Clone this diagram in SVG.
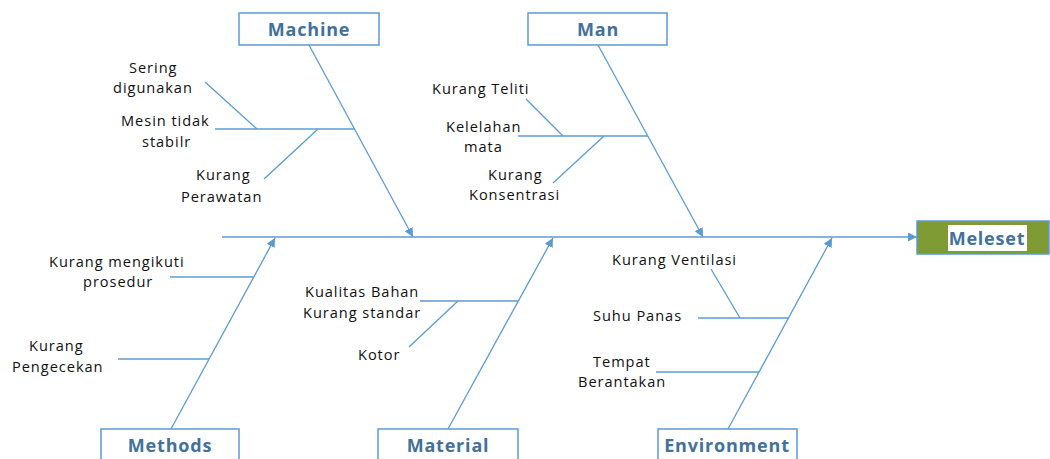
<svg xmlns="http://www.w3.org/2000/svg" width="1050" height="459" viewBox="0 0 1050 459">
<style>
.box{fill:#fff;stroke:#5B9BD5;stroke-width:1.5}
.title{font-family:"Open Sans","Liberation Sans",sans-serif;font-weight:bold;font-size:18px;fill:#41719C;text-anchor:middle;letter-spacing:0.8px}
.lbl{font-family:"Open Sans","Liberation Sans",sans-serif;font-size:14.6px;fill:#111;letter-spacing:0.95px}
.ln{stroke:#5B9BD5;stroke-width:1.3;fill:none}
.arr{stroke:#5B9BD5;stroke-width:1.3;fill:none;marker-end:url(#ah)}
</style>
<defs>
<marker id="ah" viewBox="0 0 10 10" refX="10" refY="5" markerWidth="9" markerHeight="9" markerUnits="userSpaceOnUse" orient="auto">
<path d="M0,0 L10,5 L0,10 z" fill="#5B9BD5"/>
</marker>
</defs>
<rect width="1050" height="459" fill="#fff"/>
<g id="connectors">
<line class="arr" x1="222" y1="237" x2="917" y2="237"/>
<line class="arr" x1="309" y1="45" x2="413" y2="237"/>
<line class="arr" x1="598" y1="45" x2="703" y2="237"/>
<line class="arr" x1="171" y1="429" x2="275" y2="238"/>
<line class="arr" x1="448" y1="429" x2="553" y2="238"/>
<line class="arr" x1="728" y1="429" x2="832" y2="238"/>
<line class="ln" x1="215" y1="129" x2="355" y2="129"/>
<line class="ln" x1="205" y1="82" x2="257" y2="129"/>
<line class="ln" x1="264" y1="179" x2="318" y2="129"/>
<line class="ln" x1="518" y1="136" x2="648" y2="136"/>
<line class="ln" x1="526" y1="99" x2="563" y2="136"/>
<line class="ln" x1="553" y1="183" x2="604" y2="136"/>
<line class="ln" x1="170" y1="277" x2="254" y2="277"/>
<line class="ln" x1="118" y1="359" x2="209" y2="359"/>
<line class="ln" x1="420" y1="301" x2="518" y2="301"/>
<line class="ln" x1="409" y1="347" x2="458" y2="301"/>
<line class="ln" x1="698" y1="318" x2="788" y2="318"/>
<line class="ln" x1="711" y1="269" x2="740" y2="318"/>
<line class="ln" x1="656" y1="372" x2="759" y2="372"/>
</g>
<g id="machine">
<rect class="box" x="239" y="13" width="140" height="32"/>
<text class="title" x="309" y="36">Machine</text>
<text class="lbl" x="129" y="73">Sering</text>
<text class="lbl" x="113" y="93">digunakan</text>
<text class="lbl" x="121" y="126">Mesin tidak</text>
<text class="lbl" x="142" y="147">stabilr</text>
<text class="lbl" x="196" y="180">Kurang</text>
<text class="lbl" x="181" y="202">Perawatan</text>
</g>
<g id="man">
<rect class="box" x="528" y="13" width="139" height="32"/>
<text class="title" x="598" y="36">Man</text>
<text class="lbl" x="432" y="94">Kurang Teliti</text>
<text class="lbl" x="446" y="132">Kelelahan</text>
<text class="lbl" x="464" y="152">mata</text>
<text class="lbl" x="488" y="180">Kurang</text>
<text class="lbl" x="469" y="200">Konsentrasi</text>
</g>
<g id="methods">
<rect class="box" x="101" y="429" width="138" height="40"/>
<text class="title" x="170" y="452">Methods</text>
<text class="lbl" x="49" y="267">Kurang mengikuti</text>
<text class="lbl" x="83" y="287">prosedur</text>
<text class="lbl" x="29" y="351">Kurang</text>
<text class="lbl" x="12" y="372">Pengecekan</text>
</g>
<g id="material">
<rect class="box" x="378" y="429" width="140" height="40"/>
<text class="title" x="448" y="452">Material</text>
<text class="lbl" x="305" y="297">Kualitas Bahan</text>
<text class="lbl" x="303" y="318">Kurang standar</text>
<text class="lbl" x="358" y="360">Kotor</text>
</g>
<g id="environment">
<rect class="box" x="658" y="429" width="139" height="40"/>
<text class="title" x="727" y="452">Environment</text>
<text class="lbl" x="612" y="265">Kurang Ventilasi</text>
<text class="lbl" x="593" y="321">Suhu Panas</text>
<text class="lbl" x="593" y="367">Tempat</text>
<text class="lbl" x="578" y="387">Berantakan</text>
</g>
<g id="meleset">
<rect x="917" y="221" width="132" height="33" fill="#7F9B34" stroke="#5B9BD5" stroke-width="1.5"/>
<rect x="948" y="225" width="79" height="26" fill="#fff"/>
<text class="title" x="987" y="245">Meleset</text>
</g>
</svg>
